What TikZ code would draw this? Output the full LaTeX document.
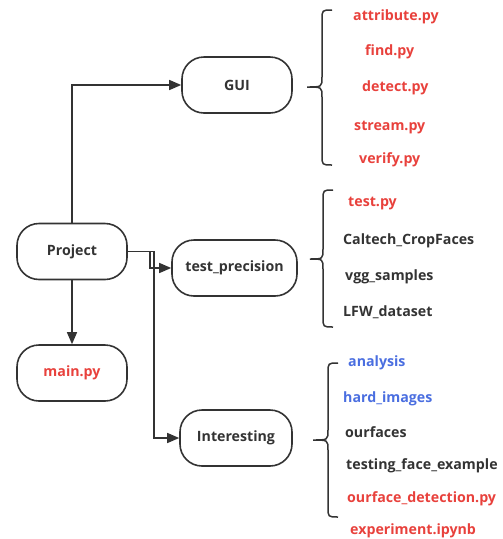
\documentclass[tikz,border=0pt]{standalone}
\usepackage{fontspec}
\setmainfont{Open Sans}
\usetikzlibrary{arrows.meta}
\definecolor{cred}{HTML}{E8413C}
\definecolor{cblue}{HTML}{4A6EE0}
\definecolor{cdark}{HTML}{333333}
\begin{document}
\begin{tikzpicture}[x=1pt,y=-1pt,
  box/.style={draw=cdark,line width=1.6pt,rounded corners=22pt,minimum height=56pt,
    font=\fontsize{14.2}{16}\bfseries\selectfont,text=cdark,inner sep=0pt},
  lbl/.style={font=\fontsize{14.2}{16}\bfseries\selectfont,anchor=west,inner sep=0pt,
    text height=10.5pt,text depth=3pt},
  conn/.style={draw=cdark,line width=1.4pt,-{Triangle[length=12pt,width=10pt]}},
  brc/.style={draw=cdark,line width=1.5pt}]
\useasboundingbox (0,0) rectangle (503,539);
% main nodes
\node[box,minimum width=110pt] (proj) at (72,251.5) {Project};
\node[box,minimum width=110pt,text=cred] (main) at (72,373) {main.py};
\node[box,minimum width=110pt] (gui) at (237,85) {GUI};
\node[box,minimum width=125pt] (test) at (234.5,268) {test\_precision};
\node[box,minimum width=112pt] (inter) at (236,438) {Interesting};
% connectors
\draw[conn] (proj.north) |- (gui.west);
\draw[conn] (proj.south) -- (main.north);
\draw[conn] (proj.east) -- ++(22,0) |- (test.west);
\draw[conn] (proj.east) -- ++(26,0) |- (inter.west);
% braces
\draw[brc] (332,10) .. controls (322,10) .. (322,20) -- (322,77)
  .. controls (322,87) .. (307,87) .. controls (322,87) .. (322,97)
  -- (322,155) .. controls (322,165) .. (332,165);
\draw[brc] (333,190) .. controls (323,190) .. (323,200) -- (323,249)
  .. controls (323,259) .. (310,259) .. controls (323,259) .. (323,269)
  -- (323,317) .. controls (323,327) .. (333,327);
\draw[brc] (338,363) .. controls (328,363) .. (328,373) -- (328,430)
  .. controls (328,440) .. (313,440) .. controls (328,440) .. (328,450)
  -- (328,507) .. controls (328,517) .. (338,517);
% GUI list
\node[lbl,text=cred] (a1) at (353,17) {attribute.py};
\node[lbl,text=cred] (a2) at (365,52) {find.py};
\node[lbl,text=cred] (a3) at (362,88) {detect.py};
\node[lbl,text=cred] (a4) at (354,127) {stream.py};
\node[lbl,text=cred] (a5) at (359,160) {verify.py};
% test list
\node[lbl,text=cred] (b1) at (348,203) {test.py};
\node[lbl,text=cdark] (b2) at (343,241) {Caltech\_CropFaces};
\node[lbl,text=cdark] (b3) at (345,277) {vgg\_samples};
\node[lbl,text=cdark] (b4) at (343,313) {LFW\_dataset};
% interesting list
\node[lbl,text=cblue] (c1) at (348,363) {analysis};
\node[lbl,text=cblue] (c2) at (343,399) {hard\_images};
\node[lbl,text=cdark] (c3) at (345,434) {ourfaces};
\node[lbl,text=cdark] (c4) at (346,466) {testing\_face\_example};
\node[lbl,text=cred] (c5) at (347,499) {ourface\_detection.py};
\node[lbl,text=cred] (c6) at (350,531) {experiment.ipynb};
\end{tikzpicture}
\end{document}
